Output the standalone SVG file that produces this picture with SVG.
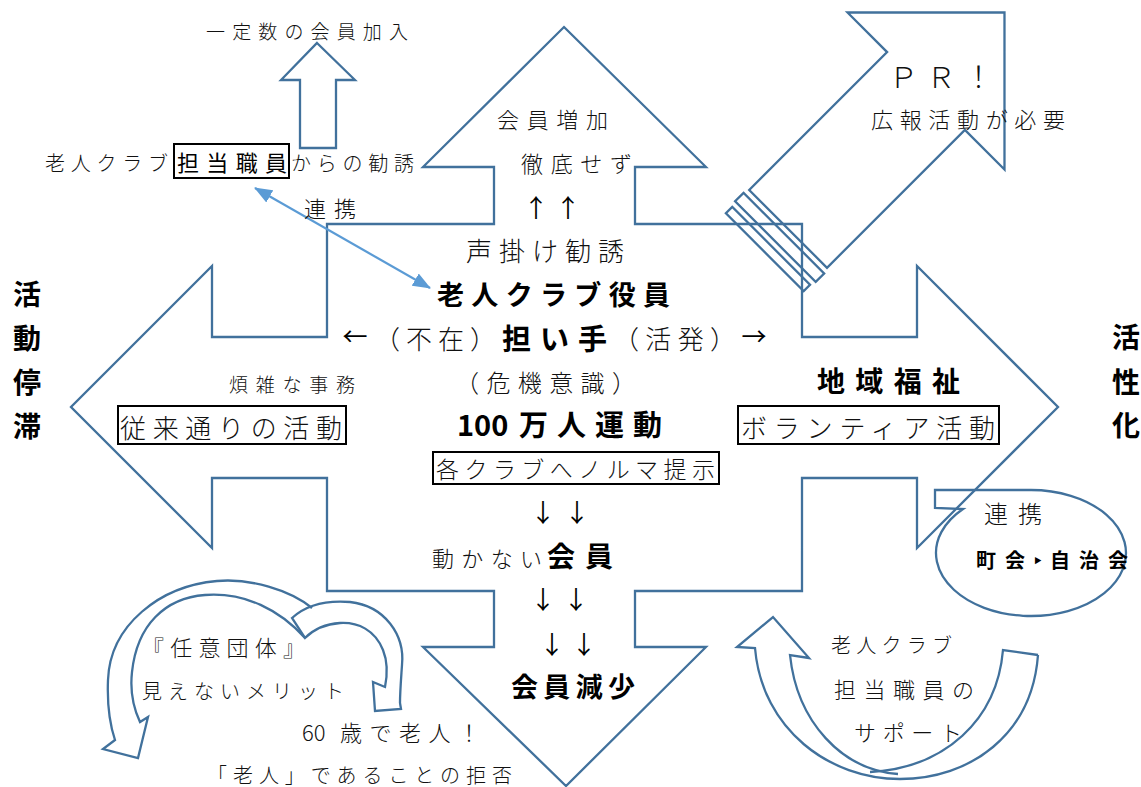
<svg xmlns="http://www.w3.org/2000/svg" width="1141" height="787" viewBox="0 0 1141 787">
<style>
.shape{fill:none;stroke:#41719C;stroke-width:2.3;stroke-linejoin:miter}
.box{fill:none;stroke:#000;stroke-width:2}
.t{font-family:"Noto Sans CJK JP","Noto Sans CJK SC",sans-serif;fill:#111;font-weight:300}
.b{font-family:"Noto Sans CJK JP","Noto Sans CJK SC",sans-serif;fill:#000;font-weight:700}
.a{font-family:"Noto Sans CJK JP","Noto Sans CJK SC",sans-serif;fill:#000;font-weight:400;text-anchor:middle}
.m{text-anchor:middle}
</style>
<defs>
<marker id="ah" markerUnits="userSpaceOnUse" markerWidth="18" markerHeight="14" refX="17" refY="7" orient="auto-start-reverse" viewBox="0 0 18 14">
<path d="M0,0 L18,7 L0,14 z" fill="#5B9BD5"/>
</marker>
</defs>
<rect width="1141" height="787" fill="#fff"/>

<g id="quad-arrow">
<polygon class="shape" points="564,27 706,167 635,167 635,224 802,224 802,337 917,337 917,266 1058,407 917,548 917,478 802,478 802,591 635,591 635,647 706,647 566,786 423,647 494,647 494,591 327,591 327,478 212,478 212,548 71,407 212,266 212,337 327,337 327,224 494,224 494,167 423,167"/>
</g>

<g id="pr-arrow" transform="translate(926,91) rotate(-45)">
<polygon class="shape" points="111,0 0,111 0,55 -195,55 -195,-55 0,-55 0,-111"/>
<polygon class="shape" points="-201,-57 -201,57 -213,57 -213,-57"/>
<polygon class="shape" points="-219,-55 -219,55 -228,55 -228,-55"/>
</g>

<g id="small-up-arrow">
<polygon class="shape" points="317,43 355,80 336,80 336,148 300,148 300,80 281,80"/>
</g>

<g id="callout-ellipse">
<path class="shape" d="M935,490 L1031,490 A95,63 0 1,1 963,509 L935,508 Z"/>
</g>

<g id="curved-arrow-right">
<path class="shape" d="M1038,655 C1032,735 970,779 900,779 C830,779 762,730 755,648 L737,647 L773,617 L809,658 L790,655 C797,722 842,770 898,774"/>
<path class="shape" d="M1038,655 L1003,650 C997,720 945,768 870,772"/>
</g>

<g id="curved-arrows-left">
<path class="shape" d="M312,608 C290,590 250,578 217,581 C160,586 110,625 108,680 C107,705 110,725 115,740 L103,749 L138,758 L148,717 L140,722 C132,705 130,690 132,672 C137,625 165,598 205,595 C245,592 280,610 305,638"/>
<path class="shape" d="M292,618 C305,606 325,600 350,602 C385,606 405,635 402,665 C401,680 400,692 400,703 L401,709 L375,711 L373,682 L385,687 C388,672 387,660 383,650 C375,630 358,622 340,623 C325,624 313,630 305,638 Z"/>
</g>

<g id="connectors">
<line x1="255" y1="188" x2="430" y2="288" stroke="#5B9BD5" stroke-width="2.2" marker-start="url(#ah)" marker-end="url(#ah)"/>
</g>

<g id="label-top-left">
<text class="t" x="206" y="39" font-size="19" textLength="202" lengthAdjust="spacing">一定数の会員加入</text>
<text class="t" x="45" y="171" font-size="20" textLength="123" lengthAdjust="spacing">老人クラブ</text>
<rect class="box" x="174" y="144" width="115" height="34"/>
<text class="t" x="177" y="171" font-size="22" textLength="110" lengthAdjust="spacing" style="font-weight:400;fill:#000">担当職員</text>
<text class="t" x="291" y="171" font-size="20" textLength="123" lengthAdjust="spacing">からの勧誘</text>
<text class="t" x="304" y="217" font-size="22" textLength="52" lengthAdjust="spacing">連携</text>
</g>

<g id="label-top">
<text class="t" x="497" y="128" font-size="22" textLength="111" lengthAdjust="spacing">会員増加</text>
<text class="t" x="521" y="172" font-size="22" textLength="111" lengthAdjust="spacing">徹底せず</text>
<text class="a" x="536" y="217" font-size="25">↑</text>
<text class="a" x="568" y="217" font-size="25">↑</text>
<text class="t" x="466" y="261" font-size="26" textLength="158" lengthAdjust="spacing">声掛け勧誘</text>
</g>

<g id="label-center">
<text class="b" x="437" y="305" font-size="27" textLength="233" lengthAdjust="spacing">老人クラブ役員</text>
<text class="a" x="355" y="346" font-size="25">←</text>
<text class="t" x="374" y="349" font-size="26" textLength="122" lengthAdjust="spacing">（不在）</text>
<text class="b" x="502" y="350" font-size="29" textLength="105" lengthAdjust="spacing">担い手</text>
<text class="t" x="613" y="349" font-size="26" textLength="123" lengthAdjust="spacing">（活発）</text>
<text class="a" x="754" y="346" font-size="25">→</text>
<text class="t" x="455" y="392" font-size="24" textLength="181" lengthAdjust="spacing">（危機意識）</text>
<text class="b" x="457" y="436" font-size="29">100</text>
<text class="b" x="519" y="436" font-size="29" textLength="143" lengthAdjust="spacing">万人運動</text>
<rect class="box" x="433" y="452" width="286" height="32"/>
<text class="t" x="436" y="478" font-size="23" textLength="279" lengthAdjust="spacing">各クラブへノルマ提示</text>
<text class="a" x="543" y="522" font-size="25">↓</text>
<text class="a" x="577" y="522" font-size="25">↓</text>
<text class="t" x="432" y="567" font-size="22" textLength="110" lengthAdjust="spacing">動かない</text>
<text class="b" x="547" y="567" font-size="28" textLength="66" lengthAdjust="spacing">会員</text>
<text class="a" x="543" y="609" font-size="25">↓</text>
<text class="a" x="576" y="609" font-size="25">↓</text>
<text class="a" x="552" y="654" font-size="25">↓</text>
<text class="a" x="584" y="654" font-size="25">↓</text>
<text class="b" x="511" y="697" font-size="27" textLength="124" lengthAdjust="spacing">会員減少</text>
</g>

<g id="label-left">
<text class="b m" x="27" y="305" font-size="28">活</text>
<text class="b m" x="27" y="349" font-size="28">動</text>
<text class="b m" x="27" y="393" font-size="28">停</text>
<text class="b m" x="27" y="437" font-size="28">滞</text>
<text class="t" x="229" y="392" font-size="19" textLength="126" lengthAdjust="spacing">煩雑な事務</text>
<rect class="box" x="118" y="406" width="228" height="38"/>
<text class="t" x="120" y="438" font-size="26" textLength="222" lengthAdjust="spacing">従来通りの活動</text>
</g>

<g id="label-right">
<text class="b" x="817" y="392" font-size="28" textLength="143" lengthAdjust="spacing">地域福祉</text>
<rect class="box" x="738" y="406" width="261" height="38"/>
<text class="t" x="741" y="438" font-size="26" textLength="254" lengthAdjust="spacing">ボランティア活動</text>
<text class="b m" x="1126" y="348" font-size="28">活</text>
<text class="b m" x="1126" y="393" font-size="28">性</text>
<text class="b m" x="1126" y="436" font-size="28">化</text>
</g>

<g id="label-pr">
<text class="t" x="889" y="88" font-size="29" textLength="104" lengthAdjust="spacing">ＰＲ！</text>
<text class="t" x="871" y="128" font-size="22" textLength="194" lengthAdjust="spacing">広報活動が必要</text>
</g>

<g id="label-ellipse">
<text class="t" x="984" y="523" font-size="24" textLength="58" lengthAdjust="spacing">連携</text>
<text class="b" x="976" y="568" font-size="20" textLength="152" lengthAdjust="spacing" style="font-weight:600">町会‣自治会</text>
</g>

<g id="label-support">
<text class="t" x="831" y="653" font-size="20" textLength="121" lengthAdjust="spacing">老人クラブ</text>
<text class="t" x="834" y="698" font-size="22" textLength="140" lengthAdjust="spacing">担当職員の</text>
<text class="t" x="854" y="741" font-size="22" textLength="108" lengthAdjust="spacing">サポート</text>
</g>

<g id="label-bottom-left">
<text class="t" x="142" y="656" font-size="22" textLength="163" lengthAdjust="spacing">『任意団体』</text>
<text class="t" x="142" y="699" font-size="20" textLength="202" lengthAdjust="spacing">見えないメリット</text>
<text class="t" x="302" y="741" font-size="22">60</text>
<text class="t" x="340" y="741" font-size="22" textLength="140" lengthAdjust="spacing">歳で老人！</text>
<text class="t" x="207" y="783" font-size="20" textLength="305" lengthAdjust="spacing">「老人」であることの拒否</text>
</g>
</svg>
